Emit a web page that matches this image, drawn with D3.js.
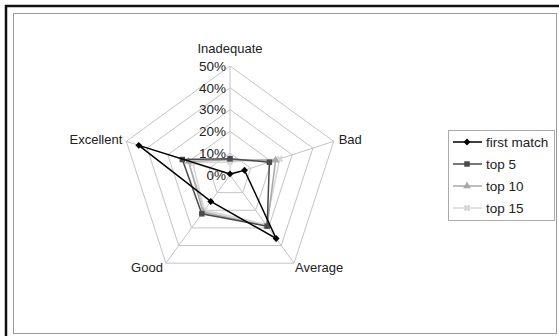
<!DOCTYPE html>
<html><head><meta charset="utf-8">
<script src="https://cdn.jsdelivr.net/npm/d3@7"></script>
<style>
html,body{margin:0;padding:0;background:#fff;}
svg{display:block;font-family:"Liberation Sans",Arial,sans-serif;}
</style></head>
<body>
<svg id="chart" width="559" height="336"></svg>
<script>
const categories = ["Inadequate", "Bad", "Average", "Good", "Excellent"];
const seriesNames = ["first match", "top 5", "top 10", "top 15"];
const firstMatch = [0.5, 7, 36, 15, 44];
const top5 = [7.5, 19, 29, 22, 23];
const top10 = [7, 22, 29, 21, 20];
const top15 = [6, 24, 28, 20, 18];
const tickValues = [0, 10, 20, 30, 40, 50];

const svg = d3.select("#chart");
const W = 559, H = 336;
const cx = 230, cy = 175, R = 109;

// frame
svg.append("rect").attr("x", 6).attr("y", 6).attr("width", W + 10).attr("height", H + 10)
  .attr("fill", "#fff").attr("stroke", "#111").attr("stroke-width", 2.5);
svg.append("rect").attr("x", 13.5).attr("y", 13.5).attr("width", 543).attr("height", 320)
  .attr("fill", "none").attr("stroke", "#999").attr("stroke-width", 1);

const r = d3.scaleLinear().domain([0, 50]).range([0, R]);
const angle = d3.scalePoint().domain(categories).range([0, 2 * Math.PI * (categories.length - 1) / categories.length]);
const pt = (c, v) => {
  const a = angle(c);
  return [cx + r(v) * Math.sin(a), cy - r(v) * Math.cos(a)];
};

const g = svg.append("g");
tickValues.filter(t => t > 0).forEach(t => {
  g.append("polygon")
    .attr("points", categories.map(c => pt(c, t).join(",")).join(" "))
    .attr("fill", "none").attr("stroke", "#c4c4c4").attr("stroke-width", 1);
});
categories.forEach(c => {
  const p = pt(c, 50);
  g.append("line").attr("x1", cx).attr("y1", cy).attr("x2", p[0]).attr("y2", p[1])
    .attr("stroke", "#c4c4c4").attr("stroke-width", 1);
});
tickValues.forEach(t => {
  const p = pt(categories[0], t);
  g.append("text").attr("x", p[0] - 4).attr("y", p[1]).attr("dy", "0.35em")
    .attr("text-anchor", "end").attr("font-size", 13.5).attr("fill", "#222")
    .text(t + "%");
});
categories.forEach((c, i) => {
  const p = pt(c, 50);
  const t = g.append("text").attr("font-size", 13).attr("fill", "#222").text(c);
  if (i === 0) t.attr("x", p[0]).attr("y", p[1] - 13).attr("text-anchor", "middle");
  else if (i === 1) t.attr("x", p[0] + 5).attr("y", p[1] - 2).attr("dy", "0.35em").attr("text-anchor", "start");
  else if (i === 2) t.attr("x", p[0] + 1).attr("y", p[1] + 4).attr("dy", "0.35em").attr("text-anchor", "start");
  else if (i === 3) t.attr("x", p[0] - 3).attr("y", p[1] + 4).attr("dy", "0.35em").attr("text-anchor", "end");
  else t.attr("x", p[0] - 4).attr("y", p[1] - 2).attr("dy", "0.35em").attr("text-anchor", "end");
});

const styles = [
  { name: seriesNames[0], data: firstMatch, color: "#000", mfill: "#000", sym: d3.symbolDiamond2, size: 30, w: 1.5 },
  { name: seriesNames[1], data: top5, color: "#4a4a4a", mfill: "#4a4a4a", sym: d3.symbolSquare, size: 30, w: 1.5 },
  { name: seriesNames[2], data: top10, color: "#a8a8a8", mfill: "#a8a8a8", sym: d3.symbolTriangle, size: 26, w: 1.5 },
  { name: seriesNames[3], data: top15, color: "#d6d6d6", mfill: "#d6d6d6", sym: d3.symbolCross, size: 28, w: 1.5 }
];

const line = d3.line().curve(d3.curveLinearClosed);
styles.slice().reverse().forEach(s => {
  const pts = categories.map((c, i) => pt(c, s.data[i]));
  g.append("path").attr("d", line(pts)).attr("fill", "none")
    .attr("stroke", s.color).attr("stroke-width", s.w);
  pts.forEach(p => {
    g.append("path").attr("d", d3.symbol().type(s.sym).size(s.size)())
      .attr("transform", `translate(${p[0]},${p[1]})` + (s.sym === d3.symbolCross ? " rotate(45)" : ""))
      .attr("fill", s.mfill);
  });
});

const lg = svg.append("g");
lg.append("rect").attr("x", 448.5).attr("y", 130.5).attr("width", 106).attr("height", 90)
  .attr("fill", "#fff").attr("stroke", "#aaa").attr("stroke-width", 1);
styles.forEach((s, i) => {
  const y = 142 + i * 22;
  lg.append("line").attr("x1", 453).attr("x2", 482).attr("y1", y).attr("y2", y)
    .attr("stroke", s.color).attr("stroke-width", s.w);
  lg.append("path").attr("d", d3.symbol().type(s.sym).size(s.size)())
    .attr("transform", `translate(467,${y})` + (s.sym === d3.symbolCross ? " rotate(45)" : ""))
    .attr("fill", s.mfill);
  lg.append("text").attr("x", 486).attr("y", y).attr("dy", "0.35em")
    .attr("font-size", 13.5).attr("fill", "#222").text(s.name);
});
</script>
</body></html>
